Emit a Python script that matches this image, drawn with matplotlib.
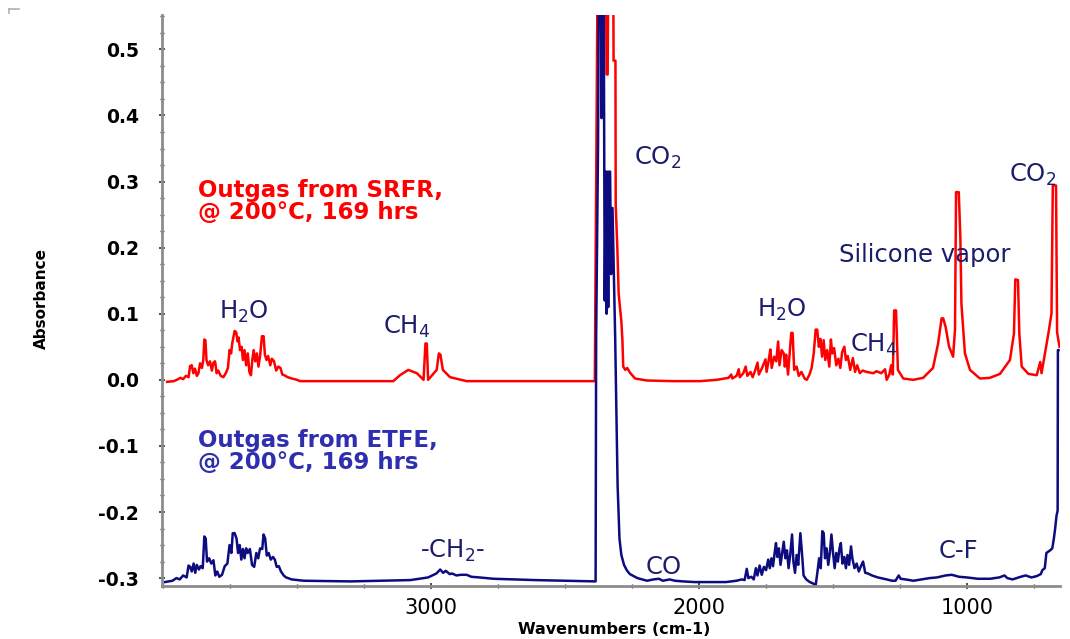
import matplotlib
matplotlib.use("Agg")
import matplotlib.pyplot as plt
from matplotlib.lines import Line2D
from matplotlib.ticker import MultipleLocator

plt.rcParams['axes.unicode_minus'] = False
plt.rcParams['mathtext.fontset'] = 'dejavusans'
plt.rcParams['mathtext.default'] = 'regular'

# SRFR outgas spectrum (wavenumber cm-1, absorbance)
red_wn = [3985, 3960, 3949, 3935, 3925, 3915, 3905, 3899, 3893, 3887, 3881, 3874, 3868,
          3862, 3855, 3850, 3846, 3842, 3838, 3832, 3825, 3818, 3812, 3806, 3800, 3794,
          3785, 3775, 3766, 3758, 3752, 3746, 3742, 3737, 3733, 3727, 3722, 3718, 3713,
          3707, 3702, 3696, 3690, 3684, 3678, 3672, 3667, 3662, 3656, 3650, 3644, 3638,
          3631, 3625, 3620, 3614, 3608, 3600, 3594, 3586, 3578, 3570, 3562, 3555, 3548,
          3535, 3520, 3500, 3489, 3300, 3141,
          3116, 3085, 3053, 3028, 3021, 3016, 3011, 2979, 2971, 2965, 2956, 2929, 2867,
          2600, 2389,
          2388, 2383, 2379, 2347, 2345, 2341, 2339, 2320, 2319, 2312, 2311, 2305, 2300,
          2290, 2286, 2283, 2275, 2268, 2258, 2239, 2195, 2100,
          1996, 1934, 1890, 1880, 1876, 1860, 1852, 1848, 1835, 1826, 1820, 1808, 1800,
          1790, 1782, 1777, 1765, 1752, 1748, 1740, 1734, 1729, 1720, 1712, 1705, 1700,
          1692, 1684, 1680, 1675, 1668, 1662, 1656, 1651, 1645, 1636, 1628, 1618, 1606,
          1598, 1588, 1580, 1572, 1565, 1559, 1553, 1547, 1541, 1535, 1529, 1522, 1514,
          1508, 1503, 1496, 1488, 1480, 1473, 1466, 1458, 1452, 1445, 1436, 1426, 1418,
          1410, 1400, 1390, 1375, 1350, 1338, 1320, 1306, 1300, 1290, 1283, 1277, 1272,
          1265, 1258, 1238, 1201, 1164, 1127, 1108, 1095, 1089, 1080,
          1067, 1052, 1045, 1041, 1031, 1025, 1021, 1008, 989, 952, 915, 877, 840, 825,
          820, 810, 805, 796, 771, 740, 727, 722, 697, 685, 680, 668, 664, 655]
red_abs = [-0.003, -0.002, 0.000, 0.003, 0.001, 0.006, 0.004, 0.021, 0.022, 0.010, 0.017, 0.006, 0.010,
           0.025, 0.018, 0.030, 0.061, 0.060, 0.030, 0.022, 0.028, 0.014, 0.026, 0.028, 0.010, 0.014,
           0.006, 0.004, 0.010, 0.018, 0.045, 0.040, 0.055, 0.066, 0.074, 0.072, 0.058, 0.064, 0.045,
           0.050, 0.030, 0.045, 0.022, 0.040, 0.012, 0.007, 0.030, 0.045, 0.028, 0.040, 0.020, 0.036,
           0.066, 0.066, 0.038, 0.030, 0.036, 0.022, 0.032, 0.028, 0.014, 0.020, 0.018, 0.008, 0.007,
           0.004, 0.002, 0.000, -0.002, -0.002, -0.002,
           0.007, 0.015, 0.010, 0.000, 0.055, 0.055, 0.000, 0.015, 0.040, 0.038, 0.015, 0.004, -0.002,
           -0.002, -0.002,
           0.061, 0.355, 0.60, 0.60, 0.462, 0.462, 0.60, 0.60, 0.483, 0.483, 0.264, 0.200, 0.130,
           0.089, 0.060, 0.020, 0.015, 0.018, 0.011, 0.002, -0.001, -0.002,
           -0.002, 0.000, 0.003, 0.008, 0.002, 0.006, 0.016, 0.004, 0.010, 0.020, 0.006, 0.012, 0.004,
           0.015, 0.026, 0.008, 0.018, 0.031, 0.012, 0.030, 0.046, 0.018, 0.035, 0.028, 0.058, 0.022,
           0.045, 0.040, 0.020, 0.038, 0.008, 0.040, 0.071, 0.071, 0.015, 0.020, 0.006, 0.012, 0.002,
           0.000, 0.008, 0.018, 0.040, 0.076, 0.076, 0.050, 0.062, 0.035, 0.060, 0.030, 0.045, 0.020,
           0.061, 0.040, 0.048, 0.022, 0.032, 0.018, 0.042, 0.050, 0.030, 0.036, 0.015, 0.033, 0.012,
           0.022, 0.010, 0.014, 0.012, 0.010, 0.013, 0.010, 0.016, 0.000, 0.008, 0.022, 0.008, 0.105,
           0.105, 0.015, 0.002, 0.000, 0.003, 0.018, 0.055, 0.093, 0.093, 0.080,
           0.050, 0.035, 0.076, 0.284, 0.284, 0.216, 0.115, 0.040, 0.015, 0.002, 0.003, 0.009, 0.030, 0.070,
           0.152, 0.151, 0.070, 0.020, 0.009, 0.007, 0.027, 0.010, 0.069, 0.100, 0.294, 0.294, 0.072, 0.050]

# ETFE outgas spectrum
blue_wn = [3993, 3965, 3950, 3938, 3925, 3912, 3905, 3899, 3893, 3886, 3880, 3874, 3866,
           3860, 3852, 3846, 3841, 3836, 3828, 3820, 3812, 3805, 3798, 3790, 3780, 3770,
           3760, 3752, 3745, 3740, 3733, 3726, 3720, 3714, 3708, 3702, 3696, 3690, 3684,
           3676, 3668, 3660, 3652, 3645, 3638, 3630, 3625, 3619, 3613, 3606, 3598, 3590,
           3583, 3576, 3568, 3560, 3550, 3541, 3520, 3475, 3300,
           3077, 3011, 2980, 2966, 2955, 2945, 2930, 2922, 2905, 2890, 2867, 2850, 2820,
           2768, 2613, 2393,
           2386, 2384, 2377, 2374, 2366, 2364, 2361, 2356, 2352, 2348, 2345, 2342, 2339,
           2336, 2332, 2328, 2323, 2318, 2313, 2308, 2304, 2297, 2290, 2280, 2270, 2258,
           2230, 2194, 2170, 2150, 2135, 2110, 2090, 2060, 2017,
           1900, 1860, 1841, 1830, 1822, 1816, 1805, 1796, 1788, 1782, 1774, 1766, 1758,
           1750, 1742, 1736, 1730, 1724, 1718, 1713, 1708, 1702, 1696, 1690, 1684, 1678,
           1672, 1666, 1660, 1653, 1648, 1642, 1636, 1630, 1622, 1616, 1610, 1600, 1587,
           1575, 1565, 1558, 1552, 1546, 1540, 1535, 1530, 1524, 1518, 1512, 1506, 1500,
           1494, 1488, 1482, 1476, 1471, 1465, 1458, 1452, 1446, 1440, 1433, 1428, 1420,
           1412, 1404, 1396, 1388, 1380, 1370, 1355, 1333, 1300, 1280, 1267, 1255, 1248,
           1230, 1200, 1170, 1140, 1112, 1080, 1057, 1030, 1001, 960, 914, 880, 860,
           850, 830, 800, 781, 760, 740, 725, 719, 710, 704, 690, 682, 676, 671, 666,
           662, 661, 659]
blue_abs = [-0.306, -0.304, -0.300, -0.302, -0.296, -0.299, -0.281, -0.283, -0.290, -0.278, -0.292, -0.280, -0.287,
            -0.282, -0.285, -0.237, -0.240, -0.275, -0.270, -0.278, -0.273, -0.296, -0.290, -0.298, -0.295, -0.282,
            -0.278, -0.250, -0.262, -0.232, -0.232, -0.240, -0.262, -0.250, -0.272, -0.256, -0.270, -0.255, -0.262,
            -0.256, -0.280, -0.283, -0.262, -0.270, -0.255, -0.256, -0.234, -0.240, -0.266, -0.262, -0.272, -0.268,
            -0.272, -0.283, -0.282, -0.290, -0.296, -0.299, -0.302, -0.304, -0.305,
            -0.303, -0.299, -0.293, -0.287, -0.292, -0.289, -0.294, -0.293, -0.296, -0.295, -0.295, -0.298, -0.299,
            -0.301, -0.303, -0.305,
            -0.305, 0.064, 0.352, 0.60, 0.60, 0.396, 0.60, 0.60, 0.12, 0.315, 0.10, 0.315, 0.11,
            0.315, 0.315, 0.16, 0.26, 0.164, 0.064, -0.06, -0.159, -0.240, -0.265, -0.280, -0.288, -0.294,
            -0.300, -0.304, -0.302, -0.301, -0.304, -0.302, -0.304, -0.305, -0.306,
            -0.306, -0.304, -0.302, -0.303, -0.286, -0.300, -0.298, -0.302, -0.285, -0.296, -0.281, -0.295, -0.283,
            -0.288, -0.272, -0.285, -0.270, -0.282, -0.262, -0.247, -0.268, -0.255, -0.280, -0.262, -0.245, -0.270,
            -0.258, -0.285, -0.265, -0.234, -0.275, -0.292, -0.265, -0.280, -0.232, -0.262, -0.296, -0.302, -0.306,
            -0.308, -0.311, -0.290, -0.270, -0.285, -0.229, -0.232, -0.270, -0.255, -0.280, -0.262, -0.234, -0.262,
            -0.285, -0.262, -0.275, -0.255, -0.247, -0.278, -0.268, -0.285, -0.265, -0.280, -0.252, -0.270, -0.285,
            -0.278, -0.290, -0.282, -0.275, -0.292, -0.293, -0.296, -0.299, -0.302, -0.304, -0.304, -0.296, -0.301,
            -0.302, -0.304, -0.302, -0.300, -0.299, -0.296, -0.295, -0.298, -0.299, -0.301, -0.301, -0.299, -0.296,
            -0.300, -0.302, -0.298, -0.296, -0.299, -0.297, -0.294, -0.288, -0.285, -0.262, -0.258, -0.255, -0.240, -0.224, -0.205,
            -0.198, 0.045, 0.045]

# band labels: text, wavenumber of left edge, baseline absorbance
band_text = ['H$_2$O', 'CH$_4$', 'CO$_2$', 'H$_2$O', 'CH$_4$', 'Silicone vapor', 'CO$_2$',
             '-CH$_2$-', 'CO', 'C-F']
band_wn = [3790, 3178, 2243, 1784, 1436, 1478, 845, 3040, 2198, 1105]
band_abs = [0.093, 0.070, 0.326, 0.095, 0.043, 0.178, 0.299, -0.269, -0.294, -0.269]

fig = plt.figure(figsize=(10.7, 6.39), dpi=100)
ax = fig.add_axes([0.1514, 0.0829, 0.8393, 0.8936])

ax.plot(red_wn, red_abs, color='#ff0000', lw=1.8)
ax.plot(blue_wn, blue_abs, color='#0c0c80', lw=1.8)

ax.set_xlim(4004, 653)
ax.set_ylim(-0.312, 0.552)

for s in ['top', 'right']:
    ax.spines[s].set_visible(False)
for s in ['left', 'bottom']:
    ax.spines[s].set_color('#8c8c8c')
    ax.spines[s].set_linewidth(2)

ax.xaxis.set_major_locator(MultipleLocator(1000))
ax.xaxis.set_minor_locator(MultipleLocator(250))
ax.yaxis.set_major_locator(MultipleLocator(0.1))
ax.yaxis.set_minor_locator(MultipleLocator(0.025))
ax.tick_params(which='major', direction='inout', length=5, width=1.2, color='#333333')
ax.tick_params(which='minor', direction='inout', length=3, width=1, color='#444444')
ax.tick_params(axis='y', which='major', labelsize=13.5, pad=14)
ax.tick_params(axis='x', which='major', labelsize=15, pad=6)
ax.set_xticks([3000, 2000, 1000])
ax.set_yticks([-0.3, -0.2, -0.1, 0.0, 0.1, 0.2, 0.3, 0.4, 0.5])
ax.set_yticklabels(['-0.3', '-0.2', '-0.1', '0.0', '0.1', '0.2', '0.3', '0.4', '0.5'])
for lab in ax.get_yticklabels():
    lab.set_fontweight('bold')
ax.set_xticklabels(['3000', '2000', '1000'])

fig.text(614 / 1070, 1 - 630 / 639, 'Wavenumbers (cm-1)', fontsize=11.5, fontweight='bold',
         ha='center', va='center')
fig.text(41 / 1070, 1 - 298 / 639, 'Absorbance', fontsize=11, fontweight='bold',
         rotation=90, ha='center', va='center')

for t, w, a in zip(band_text, band_wn, band_abs):
    ax.text(w, a, t, color='#1c1c6c', fontsize=17.5, ha='left', va='baseline')

ax.text(3868, 0.277, 'Outgas from SRFR,', color='#ff0000', fontsize=16.5, fontweight='bold')
ax.text(3868, 0.244, '@ 200\u00b0C, 169 hrs', color='#ff0000', fontsize=16.5, fontweight='bold')
ax.text(3868, -0.102, 'Outgas from ETFE,', color='#2e2eb0', fontsize=16.5, fontweight='bold')
ax.text(3868, -0.135, '@ 200\u00b0C, 169 hrs', color='#2e2eb0', fontsize=16.5, fontweight='bold')

# small grey corner mark at the top left of the original picture
fig.add_artist(Line2D([9 / 1070, 19 / 1070], [1 - 9 / 639, 1 - 9 / 639], color='#b0b0b0', lw=1.2))
fig.add_artist(Line2D([9 / 1070, 9 / 1070], [1 - 9 / 639, 1 - 13 / 639], color='#b0b0b0', lw=1.2))

fig.savefig('out.png', dpi=100)
